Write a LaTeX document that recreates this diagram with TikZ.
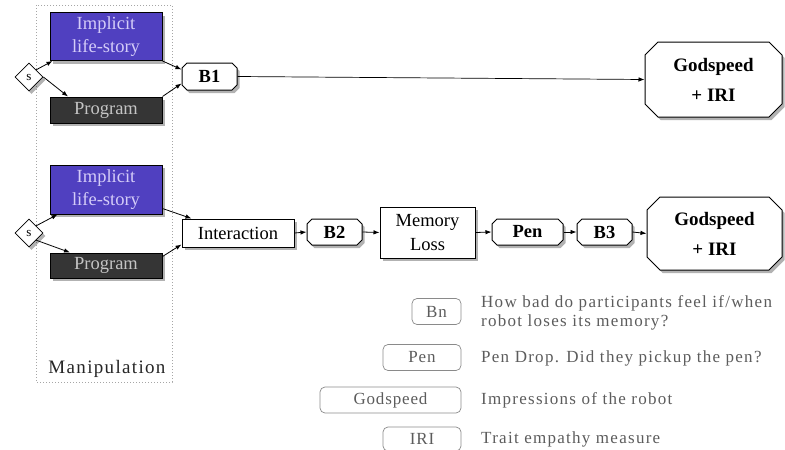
\documentclass[tikz,border=0pt]{standalone}
\usepackage{fontspec}
\setmainfont{Liberation Serif}
\newfontfamily\legfont[LetterSpace=5]{Liberation Serif}
\newfontfamily\descfont[LetterSpace=7.5]{Liberation Serif}
\newfontfamily\manfont[LetterSpace=7]{Liberation Serif}
\usetikzlibrary{shapes.geometric,shapes.misc,shadows,calc,arrows.meta}
\definecolor{impblue}{HTML}{5040C0}
\definecolor{imptext}{HTML}{D4CCF8}
\definecolor{progfill}{HTML}{353535}
\definecolor{progtext}{HTML}{C4C4C4}
\definecolor{legline}{HTML}{8A8A8A}
\definecolor{legtext}{HTML}{5C5C5C}
\begin{document}
\begin{tikzpicture}[x=1pt,y=-1pt,
  shad/.style={drop shadow={shadow xshift=2.5pt,shadow yshift=-3pt,opacity=0.3,fill=black}},
  box/.style={draw=black, line width=1pt, fill=white, inner sep=0pt, align=center,
    font=\fontsize{18.5}{21}\selectfont, shad},
  impbox/.style={box, fill=impblue, text=imptext, minimum width=112pt, minimum height=48pt,
    font=\fontsize{18.5}{23}\selectfont},
  progbox/.style={box, fill=progfill, text=progtext, minimum width=112pt, minimum height=26pt},
  chbox/.style={box, chamfered rectangle, chamfered rectangle xsep=2.5pt, chamfered rectangle ysep=2.5pt,
    font=\bfseries\fontsize{18.5}{21}\selectfont},
  bigch/.style={box, chamfered rectangle, chamfered rectangle xsep=6.5pt, chamfered rectangle ysep=6.5pt,
    font=\bfseries\fontsize{19}{30}\selectfont},
  sw/.style={draw=black, line width=0.8pt, fill=white, diamond, inner sep=0pt, minimum size=28pt,
    font=\fontsize{13}{14}\selectfont, shad},
  arr/.style={-{Latex[length=6pt,width=4.5pt]}, line width=0.8pt},
  leg/.style={draw=legline, line width=0.7pt, rounded corners=5pt, inner sep=0pt, text=legtext,
    font=\legfont\fontsize{17}{20}\selectfont, minimum height=26pt},
  desc/.style={anchor=west, inner sep=0pt, text=legtext, font=\descfont\fontsize{17}{20}\selectfont}
]
\useasboundingbox (0,0) rectangle (785,450);
% manipulation frame
\draw[draw=gray!70, dotted, line width=1pt] (36,5) rectangle (172,382);
\node[font=\manfont\fontsize{19}{22}\selectfont, text=black!85] (manip) at (107,369) {Manipulation};

% top row
\node[impbox] (imp1) at (106,36.5) {Implicit\\life-story};
\node[progbox] (prog1) at (106,110) {Program};
\node[sw] (s1) at (29,77) {s};
\node[chbox, minimum width=55pt, minimum height=27pt] (b1) at (209.5,76.5) {B1};
\node[bigch, minimum width=137pt, minimum height=75pt] (g1) at (713.5,79.5) {Godspeed\\+ IRI};

\draw[arr] (s1.north east) -- ($(imp1.south west)+(3,0)$);
\draw[arr] (s1.east) -- ($(prog1.north)+(-38,0)$);
\draw[arr] (imp1.south east) -- ($(b1.west)+(0,-7)$);
\draw[arr] (prog1.north east) -- ($(b1.west)+(0,7)$);
\draw[arr, line width=0.7pt] (b1.east) -- (g1.west);

% bottom row
\node[impbox, minimum height=49pt] (imp2) at (106,189.5) {Implicit\\life-story};
\node[progbox, minimum height=25pt] (prog2) at (106,265.5) {Program};
\node[sw] (s2) at (29,233) {s};
\node[box, minimum width=112pt, minimum height=28pt] (inter) at (238,233) {Interaction};
\node[chbox, minimum width=55pt, minimum height=26pt] (b2) at (334.5,232) {B2};
\node[box, minimum width=95pt, minimum height=51pt, font=\fontsize{18.5}{24}\selectfont] (mem) at (427.5,232.5) {Memory\\Loss};
\node[chbox, minimum width=71pt, minimum height=26pt] (pen) at (527.5,232) {Pen};
\node[chbox, minimum width=55pt, minimum height=26pt] (b3) at (604.5,232) {B3};
\node[bigch, minimum width=135pt, minimum height=73pt] (g2) at (714.5,233.5) {Godspeed\\+ IRI};

\draw[arr] (s2.north east) -- ($(imp2.south west)+(8,0)$);
\draw[arr] (s2.south east) -- ($(prog2.north)+(-36,0)$);
\draw[arr] ($(imp2.south east)+(0,-6)$) -- ($(inter.north west)+(10,0)$);
\draw[arr] ($(prog2.north east)+(0,4)$) -- ($(inter.south west)+(0,-3)$);
\draw[arr] (inter.east) -- (b2.west);
\draw[arr] (b2.east) -- (mem.west);
\draw[arr] (mem.east) -- (pen.west);
\draw[arr] (pen.east) -- (b3.west);
\draw[arr] (b3.east) -- (g2.west);

% legend
\node[leg, minimum width=49pt] (lbn) at (436.5,311.5) {Bn};
\node[leg, minimum width=78pt] (lpen) at (422,357.5) {Pen};
\node[leg, minimum width=141pt] (lgod) at (390.5,400) {Godspeed};
\node[leg, minimum width=78pt, minimum height=24pt] (liri) at (422,439) {IRI};
\node[desc] (d1) at (481,303) {How bad do participants feel if/when};
\node[desc] (d2) at (481,322) {robot loses its memory?};
\node[desc] (d3) at (481,358) {Pen Drop. Did they pickup the pen?};
\node[desc] (d4) at (481,400) {Impressions of the robot};
\node[desc] (d5) at (481,439) {Trait empathy measure};
\end{tikzpicture}
\end{document}
